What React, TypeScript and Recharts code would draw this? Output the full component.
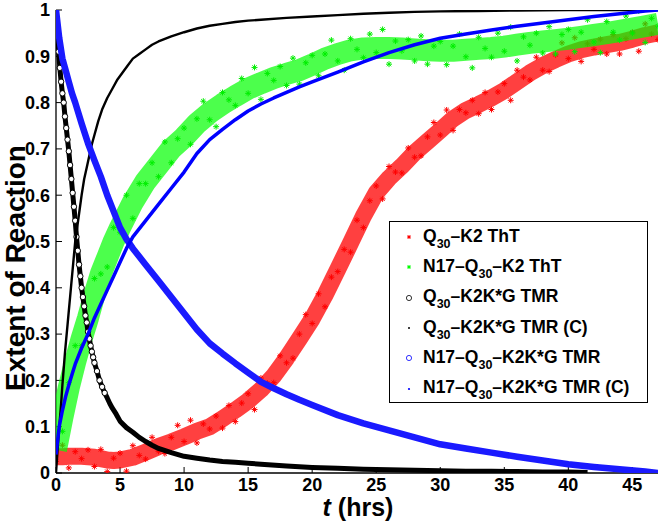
import React from "react";
import { ScatterChart, Scatter, XAxis, YAxis, Legend } from "recharts";

const FONT = '"Liberation Sans", Arial, Helvetica, sans-serif';

const X_TICKS = [0, 5, 10, 15, 20, 25, 30, 35, 40, 45];
const Y_TICKS = [0, 0.1, 0.2, 0.3, 0.4, 0.5, 0.6, 0.7, 0.8, 0.9, 1];

// ThT readings (hrs), half-hour samples
const THT_TIMES = [
  0, 0.5, 1, 1.5, 2, 2.5, 3, 3.5, 4, 4.5, 5, 5.5, 6, 6.5, 7, 7.5, 8, 8.5, 9, 9.5,
  10, 10.5, 11, 11.5, 12, 12.5, 13, 13.5, 14, 14.5, 15, 15.5, 16, 16.5, 17, 17.5, 18, 18.5, 19, 19.5,
  20, 20.5, 21, 21.5, 22, 22.5, 23, 23.5, 24, 24.5, 25, 25.5, 26, 26.5, 27, 27.5, 28, 28.5, 29, 29.5,
  30, 30.5, 31, 31.5, 32, 32.5, 33, 33.5, 34, 34.5, 35, 35.5, 36, 36.5, 37, 37.5, 38, 38.5, 39, 39.5,
  40, 40.5, 41, 41.5, 42, 42.5, 43, 43.5, 44, 44.5, 45, 45.5, 46, 46.5, 47,
];

const Q30_THT = [
  0.025, 0.06, 0.011, 0.046, 0.031, 0.05, 0.014, 0.051, 0.003, 0.032,
  0.043, 0.004, 0.059, 0.038, 0.03, 0.077, 0.047, 0.042, 0.077, 0.103,
  0.068, 0.114, 0.065, 0.106, 0.095, 0.123, 0.097, 0.146, 0.111, 0.151,
  0.171, 0.137, 0.205, 0.194, 0.195, 0.253, 0.238, 0.248, 0.3, 0.342,
  0.323, 0.387, 0.359, 0.423, 0.435, 0.483, 0.477, 0.546, 0.53, 0.588,
  0.62, 0.592, 0.662, 0.65, 0.648, 0.702, 0.682, 0.685, 0.726, 0.757,
  0.73, 0.784, 0.74, 0.785, 0.778, 0.805, 0.776, 0.822, 0.785, 0.823,
  0.841, 0.805, 0.87, 0.855, 0.849, 0.898, 0.87, 0.867, 0.903, 0.929,
  0.895, 0.94, 0.889, 0.927, 0.915, 0.937, 0.905, 0.947, 0.905, 0.938,
  0.952, 0.911, 0.97, 0.948, 0.936,
];

const N17_THT = [
  0.07, 0.09, 0.195, 0.275, 0.275, 0.295, 0.42, 0.43, 0.445, 0.53,
  0.52, 0.6, 0.55, 0.625, 0.625, 0.67, 0.64, 0.715, 0.67, 0.722,
  0.745, 0.71, 0.765, 0.803, 0.763, 0.748, 0.822, 0.806, 0.794, 0.852,
  0.82, 0.876, 0.807, 0.863, 0.848, 0.878, 0.837, 0.896, 0.84, 0.886,
  0.902, 0.858, 0.905, 0.935, 0.89, 0.87, 0.938, 0.915, 0.897, 0.948,
  0.908, 0.958, 0.883, 0.933, 0.912, 0.936, 0.89, 0.944, 0.883, 0.922,
  0.932, 0.882, 0.922, 0.948, 0.899, 0.875, 0.941, 0.917, 0.898, 0.95,
  0.911, 0.963, 0.89, 0.942, 0.924, 0.95, 0.907, 0.964, 0.905, 0.947,
  0.958, 0.91, 0.952, 0.979, 0.931, 0.908, 0.975, 0.952, 0.935, 0.987,
  0.95, 0.998, 0.93, 0.982, 0.965,
];

// middle of each ThT cloud, read along its densest part
const MID_TIMES = [
  0, 0.5, 1, 1.5, 2, 2.5, 3, 3.5, 4, 4.5, 5,
  6, 7, 8, 9, 10, 11, 12, 13, 14, 15, 16, 17, 18, 19, 20,
  21, 22, 23, 24, 25, 26, 27, 28, 29, 30, 31, 32, 33, 34, 35,
  36, 37, 38, 39, 40, 41, 42, 43, 44, 45, 46, 47,
];
const Q30_THT_MID = [
  0.035, 0.035, 0.036, 0.036, 0.036, 0.035, 0.034, 0.031, 0.028, 0.027, 0.028,
  0.034, 0.045, 0.057, 0.067, 0.078, 0.09, 0.1, 0.117, 0.136, 0.156, 0.18, 0.21, 0.248, 0.29, 0.333,
  0.384, 0.44, 0.497, 0.555, 0.605, 0.637, 0.663, 0.692, 0.716, 0.74, 0.765, 0.783, 0.796, 0.81, 0.826,
  0.845, 0.864, 0.88, 0.893, 0.905, 0.914, 0.92, 0.925, 0.93, 0.937, 0.945, 0.951,
];
const N17_THT_MID = [
  0.05, 0.12, 0.185, 0.24, 0.29, 0.335, 0.385, 0.43, 0.465, 0.5, 0.53,
  0.585, 0.63, 0.665, 0.7, 0.725, 0.755, 0.778, 0.797, 0.814, 0.83, 0.842, 0.853, 0.862, 0.87, 0.882,
  0.895, 0.905, 0.913, 0.917, 0.918, 0.918, 0.917, 0.915, 0.913, 0.912, 0.912, 0.914, 0.916, 0.918, 0.921,
  0.925, 0.929, 0.932, 0.935, 0.938, 0.942, 0.946, 0.95, 0.955, 0.96, 0.965, 0.97,
];

// Q30-K2K*G TMR
const Q30_TMR_T = [
  0, 0.1, 0.2, 0.3, 0.4, 0.5, 0.6, 0.7, 0.8, 0.9,
  1.0, 1.1, 1.2, 1.3, 1.4, 1.5, 1.6, 1.7, 1.8, 1.9,
  2.0, 2.1, 2.2, 2.3, 2.4, 2.5, 2.6, 2.7, 2.8, 2.9,
  3.0, 3.2, 3.4, 3.6, 3.8, 4.0, 4.2, 4.4, 4.7, 5.0,
  5.5, 6, 6.5, 7, 7.5, 8, 9, 10, 11, 12,
  13, 14, 15, 16, 18, 20, 22, 24, 26, 28,
  30, 32, 34, 36, 38, 40, 41.5,
];
const Q30_TMR = [
  1.0, 0.95, 0.91, 0.875, 0.845, 0.82, 0.8, 0.77, 0.745, 0.72,
  0.695, 0.665, 0.635, 0.605, 0.575, 0.545, 0.51, 0.48, 0.45, 0.425,
  0.4, 0.38, 0.36, 0.34, 0.325, 0.305, 0.29, 0.275, 0.262, 0.25,
  0.238, 0.22, 0.2, 0.186, 0.173, 0.162, 0.15, 0.14, 0.127, 0.112,
  0.098, 0.088, 0.077, 0.068, 0.06, 0.053, 0.044, 0.036, 0.032, 0.028,
  0.025, 0.023, 0.021, 0.019, 0.015, 0.012, 0.01, 0.008, 0.007, 0.006,
  0.005, 0.004, 0.004, 0.003, 0.002, 0.002, 0.001,
];

const Q30_TMR_C_T = [
  0, 0.1, 0.2, 0.3, 0.4, 0.5, 0.6, 0.7, 0.8, 0.9,
  1.0, 1.1, 1.2, 1.3, 1.4, 1.5, 1.6, 1.8, 2.0, 2.2,
  2.4, 2.6, 2.8, 3.0, 3.3, 3.6, 4.0, 4.4, 4.8, 5.2,
  5.6, 6, 6.5, 7, 7.5, 8, 9, 10, 11, 12,
  13, 14, 15, 16, 18, 20, 22, 24, 26, 28,
  30, 33, 36, 40, 44, 47,
];
const Q30_TMR_C = [
  0, 0.04, 0.08, 0.115, 0.15, 0.19, 0.225, 0.26, 0.29, 0.32,
  0.35, 0.38, 0.41, 0.44, 0.47, 0.5, 0.52, 0.56, 0.6, 0.635,
  0.66, 0.685, 0.71, 0.73, 0.76, 0.785, 0.81, 0.83, 0.85, 0.865,
  0.88, 0.895, 0.905, 0.915, 0.925, 0.932, 0.943, 0.952, 0.96, 0.966,
  0.97, 0.974, 0.977, 0.979, 0.983, 0.986, 0.989, 0.992, 0.994, 0.996,
  0.997, 0.998, 0.999, 1.0, 1.0, 1.0,
];

// N17-Q30-K2K*G TMR
const N17_TMR_T = [
  0, 0.25, 0.5, 0.75, 1, 1.25, 1.5, 2, 2.5, 3,
  3.5, 4, 4.5, 5, 5.5, 6, 7, 8, 9, 10,
  11, 12, 13, 14, 15, 16, 17, 18, 19, 20,
  22, 24, 26, 28, 30, 32, 34, 36, 38, 40,
  42, 44, 46, 47,
];
const N17_TMR = [
  1.0, 0.94, 0.895, 0.87, 0.845, 0.82, 0.8, 0.755, 0.712, 0.675,
  0.64, 0.6, 0.565, 0.53, 0.505, 0.485, 0.45, 0.415, 0.38, 0.345,
  0.31, 0.28, 0.258, 0.237, 0.217, 0.197, 0.183, 0.17, 0.158, 0.147,
  0.125, 0.107, 0.092, 0.077, 0.062, 0.053, 0.044, 0.035, 0.027, 0.019,
  0.013, 0.008, 0.003, 0.0,
];
const N17_TMR_C = [
  0.04, 0.1, 0.135, 0.165, 0.19, 0.213, 0.235, 0.27, 0.3, 0.335,
  0.365, 0.395, 0.425, 0.455, 0.485, 0.51, 0.545, 0.58, 0.615, 0.65,
  0.69, 0.72, 0.742, 0.763, 0.782, 0.797, 0.81, 0.822, 0.834, 0.845,
  0.866, 0.888, 0.908, 0.925, 0.939, 0.948, 0.957, 0.965, 0.972, 0.979,
  0.986, 0.992, 0.998, 1.0,
];

const LEGEND_LABELS = [
  ["Q", "30", "–K2 ThT"],
  ["N17–Q", "30", "–K2 ThT"],
  ["Q", "30", "–K2K*G TMR"],
  ["Q", "30", "–K2K*G TMR (C)"],
  ["N17–Q", "30", "–K2K*G TMR"],
  ["N17–Q", "30", "–K2K*G TMR (C)"],
];
const LEGEND_MARKS = ["starR", "starG", "circK", "dotK", "circB", "dotB"];

const pts = (ts: number[], vs: number[]) => ts.map((t, i) => ({ t, v: vs[i] }));

function Asterisk({ cx, cy, color, r = 3 }: { cx: number; cy: number; color: string; r?: number }) {
  const d = r * 0.7;
  return (
    <g stroke={color} strokeWidth={1}>
      <line x1={cx - r} y1={cy} x2={cx + r} y2={cy} />
      <line x1={cx} y1={cy - r} x2={cx} y2={cy + r} />
      <line x1={cx - d} y1={cy - d} x2={cx + d} y2={cy + d} />
      <line x1={cx - d} y1={cy + d} x2={cx + d} y2={cy - d} />
    </g>
  );
}

function Mark({ kind }: { kind: string }) {
  return (
    <svg width={10} height={10} style={{ display: "block" }}>
      {kind === "starR" && <Asterisk cx={5} cy={5} r={2} color="#ff0000" />}
      {kind === "starG" && <Asterisk cx={5} cy={5} r={2} color="#00ff00" />}
      {kind === "circK" && <circle cx={5} cy={5} r={2.6} fill="none" stroke="#000" strokeWidth={0.8} />}
      {kind === "dotK" && <circle cx={5} cy={5} r={1} fill="#000" />}
      {kind === "circB" && <circle cx={5} cy={5} r={2.6} fill="none" stroke="#0000ff" strokeWidth={0.8} />}
      {kind === "dotB" && <circle cx={5} cy={5} r={1.1} fill="#0000ff" />}
    </svg>
  );
}

function LegendBox() {
  return (
    <div style={{ fontFamily: FONT, fontWeight: "bold", fontSize: 17.5, color: "#000" }}>
      {LEGEND_LABELS.map((lab, i) => (
        <div key={i} style={{ display: "flex", alignItems: "center", height: 30.3 }}>
          <div style={{ width: 33, display: "flex", justifyContent: "center", paddingLeft: 4, boxSizing: "border-box" }}>
            <Mark kind={LEGEND_MARKS[i]} />
          </div>
          <span style={{ whiteSpace: "nowrap", lineHeight: "17px" }}>
            {lab[0]}
            <span style={{ fontSize: 12.5, position: "relative", top: 6 }}>{lab[1]}</span>
            {lab[2]}
          </span>
        </div>
      ))}
    </div>
  );
}

const tickFont = { fill: "#000", fontSize: 18, fontWeight: "bold", fontFamily: FONT };

export default function App() {
  const q30Tht = pts(THT_TIMES, Q30_THT);
  const n17Tht = pts(THT_TIMES, N17_THT);
  const q30Mid = pts(MID_TIMES, Q30_THT_MID);
  const n17Mid = pts(MID_TIMES, N17_THT_MID);
  const q30Tmr = pts(Q30_TMR_T, Q30_TMR);
  const q30TmrC = pts(Q30_TMR_C_T, Q30_TMR_C);
  const n17Tmr = pts(N17_TMR_T, N17_TMR);
  const n17TmrC = pts(N17_TMR_T, N17_TMR_C);

  return (
    <div style={{ position: "absolute", left: 0, top: 0, width: 662, height: 522, background: "#fff" }}>
      <ScatterChart width={662} height={522} margin={{ top: 10, right: 4, bottom: 0, left: 0 }}>
        <XAxis
          xAxisId="b"
          type="number"
          dataKey="t"
          domain={[0, 47]}
          ticks={X_TICKS}
          interval={0}
          allowDataOverflow
          height={49}
          tickSize={-6}
          tickMargin={11}
          tick={tickFont}
          axisLine={{ stroke: "#000", strokeWidth: 1.3 }}
          tickLine={{ stroke: "#000", strokeWidth: 1 }}
          label={{
            content: () => (
              <text x={358} y={516} textAnchor="middle" fontFamily={FONT} fontWeight="bold" fontSize={25} fill="#000">
                <tspan fontStyle="italic">t</tspan> (hrs)
              </text>
            ),
          }}
        />
        <XAxis
          xAxisId="top"
          orientation="top"
          type="number"
          dataKey="t"
          domain={[0, 47]}
          ticks={X_TICKS}
          interval={0}
          allowDataOverflow
          height={0}
          tickSize={-6}
          tickFormatter={() => ""}
          axisLine={{ stroke: "#000", strokeWidth: 1.3 }}
          tickLine={{ stroke: "#000", strokeWidth: 1 }}
        />
        <YAxis
          yAxisId="l"
          type="number"
          dataKey="v"
          domain={[0, 1]}
          ticks={Y_TICKS}
          interval={0}
          allowDataOverflow
          width={56}
          tickSize={-6}
          tickMargin={12}
          tick={tickFont}
          tickFormatter={(v: number) => String(Math.round(v * 10) / 10)}
          axisLine={{ stroke: "#000", strokeWidth: 1.3 }}
          tickLine={{ stroke: "#000", strokeWidth: 1 }}
          label={{
            content: () => (
              <text
                x={0}
                y={0}
                transform="translate(25 268) rotate(-90)"
                textAnchor="middle"
                fontFamily={FONT}
                fontWeight="bold"
                fontSize={28}
                fill="#000"
              >
                Extent of Reaction
              </text>
            ),
          }}
        />
        <YAxis
          yAxisId="r"
          orientation="right"
          type="number"
          dataKey="v"
          domain={[0, 1]}
          ticks={Y_TICKS}
          interval={0}
          allowDataOverflow
          width={0}
          tickSize={-6}
          tickFormatter={() => ""}
          axisLine={{ stroke: "#000", strokeWidth: 1.3 }}
          tickLine={{ stroke: "#000", strokeWidth: 1 }}
        />
        <Legend
          layout="vertical"
          align="center"
          verticalAlign="middle"
          content={() => <LegendBox />}
          wrapperStyle={{
            left: 389,
            top: 221,
            width: 259,
            height: 182,
            border: "1.3px solid #000",
            background: "#fff",
            boxSizing: "border-box",
          }}
        />
        {/* red ThT cloud */}
        <Scatter
          data={q30Mid}
          xAxisId="b"
          yAxisId="l"
          isAnimationActive={false}
          line={{ stroke: "#ff0000", strokeWidth: 17, strokeOpacity: 0.75, strokeLinejoin: "round" }}
          shape={() => <g />}
        />
        <Scatter
          name="Q30-K2 ThT"
          data={q30Tht}
          xAxisId="b"
          yAxisId="l"
          isAnimationActive={false}
          shape={(p: any) => <Asterisk cx={p.cx} cy={p.cy} color="#ff0000" />}
        />
        {/* green ThT cloud */}
        <Scatter
          data={n17Mid}
          xAxisId="b"
          yAxisId="l"
          isAnimationActive={false}
          line={{ stroke: "#00ff00", strokeWidth: 22, strokeOpacity: 0.7, strokeLinejoin: "round" }}
          shape={() => <g />}
        />
        <Scatter
          name="N17-Q30-K2 ThT"
          data={n17Tht}
          xAxisId="b"
          yAxisId="l"
          isAnimationActive={false}
          shape={(p: any) => <Asterisk cx={p.cx} cy={p.cy} color="#00ee00" />}
        />
        <Scatter
          name="Q30-K2K*G TMR"
          data={q30Tmr}
          xAxisId="b"
          yAxisId="l"
          isAnimationActive={false}
          line={{ stroke: "#000", strokeWidth: 5, strokeLinejoin: "round" }}
          shape={(p: any) =>
            p.payload.t < 4 ? (
              <circle cx={p.cx} cy={p.cy} r={2.7} fill="#fff" stroke="#000" strokeWidth={1} />
            ) : (
              <g />
            )
          }
        />
        <Scatter
          name="Q30-K2K*G TMR (C)"
          data={q30TmrC}
          xAxisId="b"
          yAxisId="l"
          isAnimationActive={false}
          line={{ stroke: "#000", strokeWidth: 2.4, strokeLinejoin: "round" }}
          shape={() => <g />}
        />
        <Scatter
          name="N17-Q30-K2K*G TMR"
          data={n17Tmr}
          xAxisId="b"
          yAxisId="l"
          isAnimationActive={false}
          line={{ stroke: "#1a1aff", strokeWidth: 6.5, strokeLinejoin: "round" }}
          shape={() => <g />}
        />
        <Scatter
          name="N17-Q30-K2K*G TMR (C)"
          data={n17TmrC}
          xAxisId="b"
          yAxisId="l"
          isAnimationActive={false}
          line={{ stroke: "#0000ff", strokeWidth: 3.5, strokeLinejoin: "round" }}
          shape={() => <g />}
        />
      </ScatterChart>
    </div>
  );
}
